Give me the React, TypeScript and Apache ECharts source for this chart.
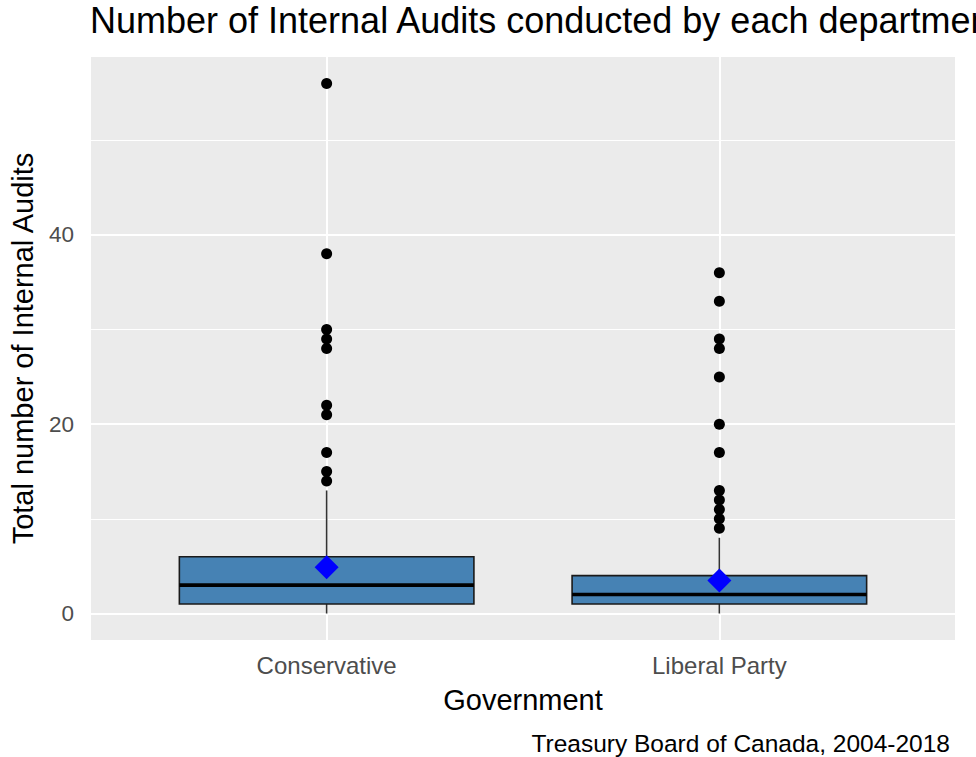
import React, { useEffect, useRef } from "react";
import * as echarts from "echarts";

// Box-plot summary per government (whiskers, quartiles, median), plus means and outliers
const categories = ["Conservative", "Liberal Party"];
const lowerWhisker = [0, 0];
const lowerQuartile = [1, 1];
const medians = [3, 2];
const upperQuartile = [6, 4];
const upperWhisker = [13, 8];
const means = [4.9, 3.5];
const conservativeOutliers = [56, 38, 30, 29, 28, 22, 21, 17, 15, 14];
const liberalOutliers = [36, 33, 29, 28, 25, 20, 17, 13, 12, 11, 10, 9];
const yTicks = [0, 20, 40];
const yMinorGrid = [10, 30, 50];

const FONT = '"Liberation Sans", Arial, sans-serif';
const BOX_HALF = 0.375;

export default function App() {
  const ref = useRef<HTMLDivElement>(null);

  useEffect(() => {
    if (!ref.current) return;
    const chart = echarts.init(ref.current, null, { renderer: "svg" });

    const boxData = categories.map((_, i) => [
      i,
      lowerWhisker[i],
      lowerQuartile[i],
      medians[i],
      upperQuartile[i],
      upperWhisker[i],
    ]);

    const outlierData = [
      ...conservativeOutliers.map((v) => [0, v]),
      ...liberalOutliers.map((v) => [1, v]),
    ];

    // white panel grid: major + minor horizontals, verticals at each category
    const gridLines = [
      ...yTicks.map((v) => ({ yAxis: v, lineStyle: { width: 2 } })),
      ...yMinorGrid.map((v) => ({ yAxis: v, lineStyle: { width: 1 } })),
      ...categories.map((_, i) => ({ xAxis: i, lineStyle: { width: 2 } })),
    ];

    chart.setOption({
      animation: false,
      textStyle: { fontFamily: FONT },
      title: {
        text: "Number of Internal Audits conducted by each department",
        left: 90,
        top: 2,
        padding: 0,
        textStyle: { fontFamily: FONT, fontSize: 36, fontWeight: "normal", color: "#000" },
      },
      graphic: [
        {
          type: "text",
          right: 26,
          top: 731,
          style: {
            text: "Treasury Board of Canada, 2004-2018",
            font: `24.5px ${FONT}`,
            fill: "#000",
          },
        },
      ],
      grid: {
        left: 91,
        right: 21,
        top: 57,
        bottom: 117,
        containLabel: false,
        outerBoundsMode: "none",
        show: true,
        backgroundColor: "#EBEBEB",
        borderWidth: 0,
      },
      xAxis: {
        type: "value",
        min: -0.6,
        max: 1.6,
        name: "Government",
        nameLocation: "middle",
        nameGap: 45,
        nameTextStyle: { fontFamily: FONT, fontSize: 29, color: "#000" },
        axisLine: { show: false },
        splitLine: { show: false },
        axisTick: {
          show: true,
          customValues: categories.map((_, i) => i),
          length: 6,
          lineStyle: { color: "#333", width: 1.5 },
        },
        axisLabel: {
          customValues: categories.map((_, i) => i),
          formatter: (v: number) => categories[Math.round(v)] ?? "",
          margin: 13,
          fontFamily: FONT,
          fontSize: 24,
          color: "#4D4D4D",
        },
      },
      yAxis: {
        type: "value",
        min: -2.8,
        max: 58.8,
        name: "Total number of Internal Audits",
        nameLocation: "middle",
        nameGap: 54,
        nameRotate: 90,
        nameTextStyle: { fontFamily: FONT, fontSize: 29, color: "#000" },
        axisLine: { show: false },
        splitLine: { show: false },
        axisTick: {
          show: true,
          customValues: yTicks,
          length: 6,
          lineStyle: { color: "#333", width: 1.5 },
        },
        axisLabel: {
          customValues: yTicks,
          margin: 17,
          fontFamily: FONT,
          fontSize: 22.5,
          color: "#4D4D4D",
        },
      },
      series: [
        {
          type: "scatter",
          data: [],
          z: 1,
          silent: true,
          markLine: {
            silent: true,
            z: 1,
            symbol: ["none", "none"],
            label: { show: false },
            lineStyle: { color: "#FFFFFF", type: "solid" },
            emphasis: { disabled: true },
            data: gridLines,
          },
        },
        {
          type: "custom",
          z: 2,
          silent: true,
          data: boxData,
          encode: { x: 0, y: [1, 2, 3, 4, 5] },
          renderItem: (_params: any, api: any) => {
            const x = api.value(0);
            const pLo = api.coord([x, api.value(1)]);
            const pQ1 = api.coord([x, api.value(2)]);
            const pMed = api.coord([x, api.value(3)]);
            const pQ3 = api.coord([x, api.value(4)]);
            const pHi = api.coord([x, api.value(5)]);
            const left = api.coord([x - BOX_HALF, api.value(4)])[0];
            const right = api.coord([x + BOX_HALF, api.value(4)])[0];
            const whisker = { stroke: "#333333", lineWidth: 1.6 };
            return {
              type: "group",
              children: [
                {
                  type: "line",
                  shape: { x1: pLo[0], y1: pLo[1], x2: pQ1[0], y2: pQ1[1] },
                  style: whisker,
                },
                {
                  type: "line",
                  shape: { x1: pQ3[0], y1: pQ3[1], x2: pHi[0], y2: pHi[1] },
                  style: whisker,
                },
                {
                  type: "rect",
                  shape: { x: left, y: pQ3[1], width: right - left, height: pQ1[1] - pQ3[1] },
                  style: { fill: "#4682B4", stroke: "#1A1A1A", lineWidth: 1.6 },
                },
                {
                  type: "line",
                  shape: { x1: left, y1: pMed[1], x2: right, y2: pMed[1] },
                  style: { stroke: "#000000", lineWidth: 3.6 },
                },
              ],
            };
          },
        },
        {
          type: "scatter",
          z: 3,
          silent: true,
          data: outlierData,
          symbol: "circle",
          symbolSize: 11,
          itemStyle: { color: "#000000", opacity: 1 },
        },
        {
          type: "scatter",
          z: 4,
          silent: true,
          data: means.map((v, i) => [i, v]),
          symbol: "diamond",
          symbolSize: [24, 24],
          itemStyle: { color: "#0000FF", opacity: 1 },
        },
      ],
    });

    return () => chart.dispose();
  }, []);

  return (
    <div
      ref={ref}
      style={{ position: "fixed", left: 0, top: 0, width: 976, height: 757, background: "#FFFFFF" }}
    />
  );
}
